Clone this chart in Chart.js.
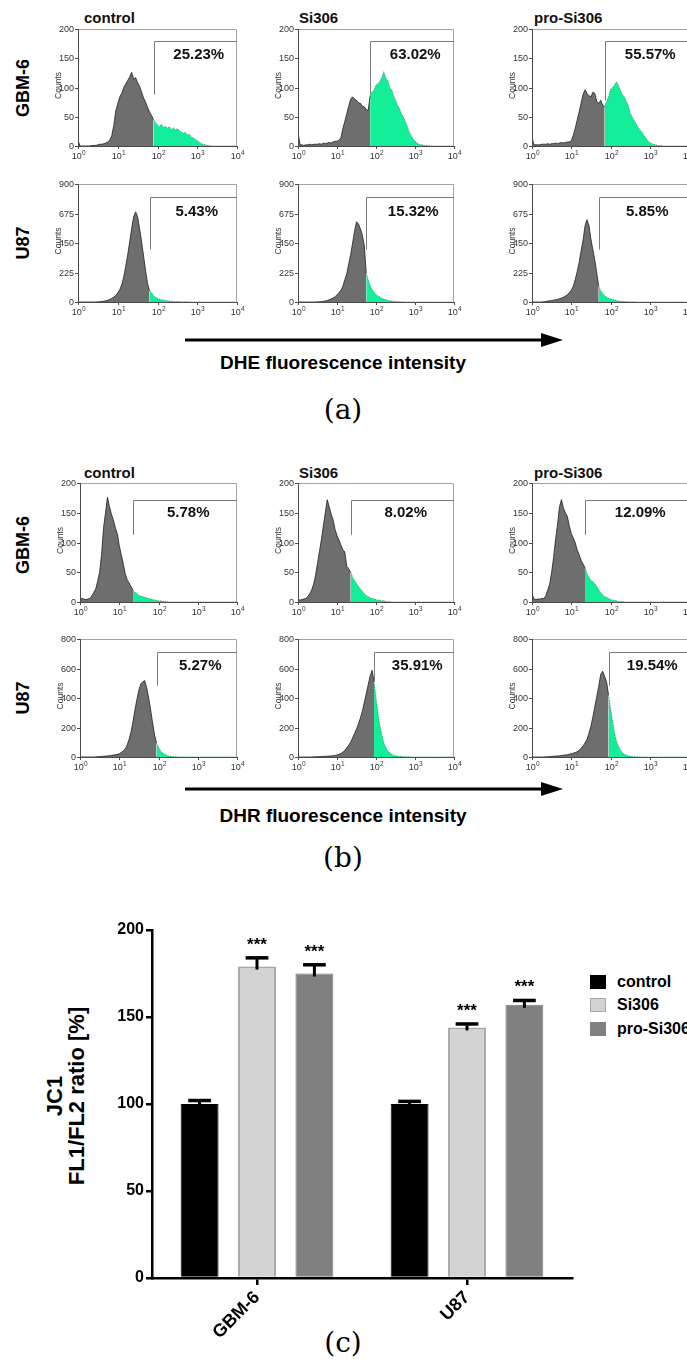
<!DOCTYPE html>
<html>
<head>
<meta charset="utf-8">
<title>DHE / DHR flow cytometry and JC1 ratio</title>
<script src="https://cdn.jsdelivr.net/npm/chart.js@4.4.1/dist/chart.umd.min.js"></script>
<style>
html,body{margin:0;padding:0;background:#ffffff;}
body{position:relative;width:687px;height:1364px;overflow:hidden;font-family:"Liberation Sans",Arial,Helvetica,sans-serif;color:#000;}
canvas{position:absolute;}
.lbl{position:absolute;white-space:nowrap;font-weight:bold;line-height:1;}
.colt{font-size:15px;color:#111;}
.rowl{font-size:18px;transform:translate(-50%,-50%) rotate(-90deg);}
.axt{font-size:19px;transform:translate(-50%,-50%);}
.pan{position:absolute;font-family:"DejaVu Serif","Liberation Serif",serif;font-size:28px;line-height:1;transform:translate(-50%,-50%);white-space:nowrap;}
.ytitle{position:absolute;font-weight:bold;font-size:22px;line-height:22px;text-align:center;white-space:nowrap;transform:translate(-50%,-50%) rotate(-90deg);}
.leg{position:absolute;font-weight:bold;font-size:16px;line-height:1;white-space:nowrap;}
.sw{position:absolute;box-sizing:border-box;}
</style>
</head>
<body>
<svg width="687" height="1364" style="position:absolute;left:0;top:0">
  <line x1="185" y1="340" x2="546" y2="340" stroke="#000" stroke-width="3"/>
  <polygon points="541,333 563,340 541,347" fill="#000"/>
  <line x1="185" y1="789" x2="546" y2="789" stroke="#000" stroke-width="3"/>
  <polygon points="541,782 563,789 541,796" fill="#000"/>
</svg>

<div class="lbl colt" style="left:84px;top:10px">control</div>
<div class="lbl colt" style="left:299px;top:10px">Si306</div>
<div class="lbl colt" style="left:534px;top:10px">pro-Si306</div>
<div class="lbl colt" style="left:84px;top:465px">control</div>
<div class="lbl colt" style="left:299px;top:465px">Si306</div>
<div class="lbl colt" style="left:534px;top:465px">pro-Si306</div>

<div class="lbl rowl" style="left:23px;top:88px">GBM-6</div>
<div class="lbl rowl" style="left:23px;top:243px">U87</div>
<div class="lbl rowl" style="left:23px;top:545px">GBM-6</div>
<div class="lbl rowl" style="left:23px;top:698px">U87</div>

<div class="lbl axt" style="left:343px;top:362px">DHE fluorescence intensity</div>
<div class="lbl axt" style="left:343px;top:815px">DHR fluorescence intensity</div>

<div class="pan" style="left:343px;top:410px">(a)</div>
<div class="pan" style="left:343px;top:858px">(b)</div>
<div class="pan" style="left:343px;top:1343px">(c)</div>

<div class="ytitle" style="left:66px;top:1096px">JC1<br>FL1/FL2 ratio [%]</div>

<div class="sw" style="left:590px;top:975px;width:16px;height:14px;background:#000"></div>
<div class="sw" style="left:590px;top:998px;width:16px;height:14px;background:#d3d3d3;border:1.5px solid #a6a6a6"></div>
<div class="sw" style="left:590px;top:1022px;width:16px;height:14px;background:#808080"></div>
<div class="leg" style="left:617px;top:974px">control</div>
<div class="leg" style="left:617px;top:997px">Si306</div>
<div class="leg" style="left:617px;top:1021px">pro-Si306</div>

<script>
// ---------- Histogram data (log10 fluorescence channel -> counts) ----------
const bins = [0,0.05,0.1,0.15,0.2,0.25,0.3,0.35,0.4,0.45,
  0.5,0.55,0.6,0.65,0.7,0.75,0.8,0.85,0.9,0.95,
  1,1.05,1.1,1.15,1.2,1.25,1.3,1.35,1.4,1.45,
  1.5,1.55,1.6,1.65,1.7,1.75,1.8,1.85,1.9,1.95,
  2,2.05,2.1,2.15,2.2,2.25,2.3,2.35,2.4,2.45,
  2.5,2.55,2.6,2.65,2.7,2.75,2.8,2.85,2.9,2.95,
  3,3.05,3.1,3.15,3.2,3.25,3.3,3.35,3.4,3.45,
  3.5,3.55,3.6,3.65,3.7,3.75,3.8,3.85,3.9,3.95,
  4];
const xTickExps = [0,1,2,3,4];
const dheGbmTicks = [0,50,100,150,200];
const dheU87Ticks = [0,225,450,675,900];
const dhrGbmTicks = [0,50,100,150,200];
const dhrU87Ticks = [0,200,400,600,800];

const dheGbmControl = [10,0,0,0,0,0,0,1,1,1,
  2,3,3,4,5,7,10,18,35,60,
  72,84,90,100,106,112,118,126,114,117,
  108,102,92,82,75,66,58,52,45,40,
  36,33,37,31,34,30,33,28,31,27,
  30,26,24,22,23,19,20,15,14,11,
  9,7,4,3,2,1,1,0,0,0,
  0,0,0,0,0,0,0,0,0,0,
  0];
const dheGbmSi306 = [24,2,2,1,2,2,3,2,3,3,
  3,4,3,5,4,5,6,5,7,8,
  8,10,14,30,42,55,68,80,84,80,
  78,74,73,68,67,62,61,86,92,96,
  104,107,110,118,127,116,113,100,96,86,
  78,70,64,55,50,42,34,24,18,12,
  8,5,3,2,2,1,1,1,0,0,
  0,0,0,0,0,0,0,0,0,0,
  0];
const dheGbmPro = [15,2,2,2,2,3,3,3,4,3,
  4,4,5,4,5,6,5,6,7,7,
  9,18,30,44,58,73,88,96,90,86,
  84,92,90,76,73,78,70,67,76,84,
  96,100,104,110,104,96,88,84,76,70,
  56,50,44,38,33,27,24,18,14,9,
  6,4,3,2,1,1,1,0,0,0,
  0,0,0,0,0,0,0,0,0,0,
  0];
const dheU87Control = [0,0,0,0,0,0,0,0,0,0,
  1,2,4,6,9,14,20,28,38,50,
  70,95,130,190,270,360,460,560,650,688,
  650,560,460,350,240,140,85,70,50,36,
  28,22,18,15,12,10,8,6,5,4,
  3,3,2,2,1,1,1,0,0,0,
  0,0,0,0,0,0,0,0,0,0,
  0,0,0,0,0,0,0,0,0,0,
  0];
const dheU87Si306 = [0,0,0,0,0,0,0,0,0,0,
  1,2,3,5,8,12,17,24,30,40,
  55,70,90,120,170,214,290,360,450,540,
  612,595,560,510,430,220,170,125,95,75,
  55,45,36,28,22,18,14,10,8,6,
  4,3,2,1,1,0,0,0,0,0,
  0,0,0,0,0,0,0,0,0,0,
  0,0,0,0,0,0,0,0,0,0,
  0];
const dheU87Pro = [0,0,0,0,0,0,2,4,7,9,
  12,14,17,20,25,30,36,45,55,70,
  90,120,170,230,300,390,470,580,628,585,
  480,400,320,220,120,85,65,50,38,30,
  24,19,15,11,8,6,5,4,3,2,
  2,1,1,0,0,0,0,0,0,0,
  0,0,0,0,0,0,0,0,0,0,
  0,0,0,0,0,0,0,0,0,0,
  0];
const dhrGbmControl = [5,6,5,4,5,6,10,16,22,35,
  50,80,125,150,176,160,148,138,125,115,
  95,80,65,48,38,32,26,20,16,14,
  11,10,9,8,7,6,5,4,3,3,
  2,2,1,1,1,0,0,0,0,0,
  0,0,0,0,0,0,0,0,0,0,
  0,0,0,0,0,0,0,0,0,0,
  0,0,0,0,0,0,0,0,0,0,
  0];
const dhrGbmSi306 = [6,3,4,5,6,9,14,20,30,45,
  65,85,105,128,150,172,160,148,138,122,
  112,104,96,88,84,60,56,50,42,36,
  31,26,22,18,14,11,9,7,6,5,
  4,3,3,2,2,1,1,1,0,0,
  0,0,0,0,0,0,0,0,0,0,
  0,0,0,0,0,0,0,0,0,0,
  0,0,0,0,0,0,0,0,0,0,
  0];
const dhrGbmPro = [14,5,4,5,5,6,6,10,20,30,
  50,75,105,130,160,172,158,150,144,128,
  115,108,100,88,80,70,64,58,48,42,
  36,34,31,26,20,16,12,9,8,6,
  4,3,3,2,1,1,1,0,0,0,
  0,0,0,0,0,0,0,0,0,0,
  0,0,0,0,0,0,0,0,0,0,
  0,0,0,0,0,0,0,0,0,0,
  0];
const dhrU87Control = [0,0,0,0,0,0,0,0,1,2,
  3,4,5,6,7,9,11,13,15,18,
  22,30,40,55,80,120,170,240,320,390,
  455,495,510,518,470,400,320,230,150,95,
  65,42,28,18,12,8,5,3,2,1,
  1,0,0,0,0,0,0,0,0,0,
  0,0,0,0,0,0,0,0,0,0,
  0,0,0,0,0,0,0,0,0,0,
  0];
const dhrU87Si306 = [0,0,0,0,0,0,0,0,1,2,
  2,3,3,4,5,5,6,7,9,11,
  14,18,24,32,45,62,80,100,130,160,
  190,225,265,310,370,430,490,550,588,510,
  400,300,210,150,95,65,42,28,18,12,
  8,6,4,3,2,2,1,1,0,0,
  0,0,0,0,0,0,0,0,0,0,
  0,0,0,0,0,0,0,0,0,0,
  0];
const dhrU87Pro = [0,0,0,0,0,0,0,1,2,3,
  4,5,6,7,8,10,12,14,16,19,
  22,26,30,36,45,58,75,95,118,160,
  208,270,343,410,479,560,581,547,510,420,
  330,250,165,110,75,45,30,18,12,8,
  5,3,2,1,1,0,0,0,0,0,
  0,0,0,0,0,0,0,0,0,0,
  0,0,0,0,0,0,0,0,0,0,
  0];

// gate position (log10), gate bracket level, end of gate line, percentage in gate
const gates = [1.9,1.85,1.85, 1.8,1.75,1.7, 1.35,1.35,1.35, 1.95,1.95,1.95];
const bracketLevels = [180,180,180, 800,800,800, 172,172,172, 712,712,712];
const gateLineEnds = [88,88,78, 400,400,400, 113,113,113, 484,513,484];
const gatePercents = ['25.23%','63.02%','55.57%','5.43%','15.32%','5.85%','5.78%','8.02%','12.09%','5.27%','35.91%','19.54%'];

// ---------- Bar chart data (panel c) ----------
const barCategories = ['GBM-6','U87'];
const barSeries = ['control','Si306','pro-Si306'];
const controlMeans = [100,100];
const si306Means = [179,144];
const proMeans = [175,157];
const controlSem = [2,1.5];
const si306Sem = [5,2];
const proSem = [5,2.5];
const sigMarks = [['',''],['***','***'],['***','***']];
const barTicks = [0,50,100,150,200];

// ---------- layout (pixels) ----------
const FONT = '"Liberation Sans", Arial, sans-serif';
const histSets = [dheGbmControl,dheGbmSi306,dheGbmPro,dheU87Control,dheU87Si306,dheU87Pro,
                  dhrGbmControl,dhrGbmSi306,dhrGbmPro,dhrU87Control,dhrU87Si306,dhrU87Pro];
const yTickSets = [dheGbmTicks,dheGbmTicks,dheGbmTicks,dheU87Ticks,dheU87Ticks,dheU87Ticks,
                   dhrGbmTicks,dhrGbmTicks,dhrGbmTicks,dhrU87Ticks,dhrU87Ticks,dhrU87Ticks];
const panelBoxes = [
  [78,29,159,117],[298,29,156,117],[532,29,157,117],
  [78,184,159,118],[298,184,156,118],[532,184,157,118],
  [80,483,157,119],[298,483,156,119],[532,483,157,119],
  [80,639,157,118],[298,639,156,118],[532,639,157,118]];
const percentY = [155,155,155, 690,690,690, 150,150,150, 615,615,615];

function makeCanvas(left, top, w, h){
  const c = document.createElement('canvas');
  c.width = w; c.height = h;
  c.style.left = left + 'px'; c.style.top = top + 'px';
  c.style.width = w + 'px'; c.style.height = h + 'px';
  document.body.appendChild(c);
  return c;
}

function histDecor(i){
  return {
    id: 'histDecor' + i,
    afterDatasetsDraw(chart){
      const {ctx, chartArea: a, scales: {x, y}} = chart;
      const ticks = yTickSets[i];
      ctx.save();
      ctx.lineWidth = 1;
      ctx.strokeStyle = '#a3a3a3';
      ctx.beginPath();
      ctx.moveTo(a.left, a.top + 0.5);
      ctx.lineTo(a.right - 0.5, a.top + 0.5);
      ctx.lineTo(a.right - 0.5, a.bottom);
      ctx.stroke();
      ctx.strokeStyle = '#4a4a4a';
      ctx.beginPath();
      ctx.moveTo(a.left + 0.5, a.top);
      ctx.lineTo(a.left + 0.5, a.bottom + 0.5);
      ctx.lineTo(a.right, a.bottom + 0.5);
      ctx.stroke();
      ctx.fillStyle = '#333';
      ctx.font = '9px ' + FONT;
      ctx.textAlign = 'right'; ctx.textBaseline = 'middle';
      ticks.forEach(v => {
        const py = Math.round(y.getPixelForValue(v)) + 0.5;
        ctx.beginPath(); ctx.moveTo(a.left - 3, py); ctx.lineTo(a.left, py); ctx.stroke();
        ctx.fillText(String(v), a.left - 4, py);
      });
      xTickExps.forEach(e => {
        const px = Math.round(x.getPixelForValue(e)) + 0.5;
        ctx.beginPath(); ctx.moveTo(px, a.bottom); ctx.lineTo(px, a.bottom + 3); ctx.stroke();
        ctx.font = '9px ' + FONT; const w1 = ctx.measureText('10').width;
        ctx.font = '6.5px ' + FONT; const w2 = ctx.measureText(String(e)).width;
        const sx = px - (w1 + w2) / 2;
        ctx.textAlign = 'left'; ctx.textBaseline = 'alphabetic';
        ctx.font = '9px ' + FONT; ctx.fillText('10', sx, a.bottom + 13);
        ctx.font = '6.5px ' + FONT; ctx.fillText(String(e), sx + w1 + 0.3, a.bottom + 9);
      });
      ctx.save();
      ctx.translate(a.left - 19, (a.top + a.bottom) / 2 - 2);
      ctx.rotate(-Math.PI / 2);
      ctx.font = '8.5px ' + FONT; ctx.textAlign = 'center'; ctx.textBaseline = 'middle';
      ctx.fillText('Counts', 0, 0);
      ctx.restore();
      const gx = Math.round(x.getPixelForValue(gates[i])) + 0.5;
      const by = Math.round(y.getPixelForValue(bracketLevels[i])) + 0.5;
      const ey = y.getPixelForValue(gateLineEnds[i]);
      ctx.strokeStyle = '#7a7a7a';
      ctx.beginPath(); ctx.moveTo(gx, ey); ctx.lineTo(gx, by); ctx.lineTo(a.right, by); ctx.stroke();
      ctx.fillStyle = '#111';
      ctx.font = 'bold 15px ' + FONT;
      ctx.textAlign = 'center'; ctx.textBaseline = 'middle';
      ctx.fillText(gatePercents[i], (gx + a.right) / 2 + 3, y.getPixelForValue(percentY[i]));
      ctx.restore();
    }
  };
}

histSets.forEach((vals, i) => {
  const [L, T, W, H] = panelBoxes[i];
  const pad = {left: 40, top: 14, right: 14, bottom: 22};
  const cv = makeCanvas(L - pad.left, T - pad.top, W + pad.left + pad.right, H + pad.top + pad.bottom);
  const pts = bins.map((b, k) => ({x: b, y: vals[k]}));
  const g = gates[i];
  const ticks = yTickSets[i];
  new Chart(cv, {
    type: 'line',
    data: {datasets: [
      {data: pts.filter(p => p.x <= g + 1e-9), fill: 'origin', backgroundColor: '#6e6e6e',
       borderColor: '#1f1f1f', borderWidth: 0.8, pointRadius: 0, tension: 0},
      {data: pts.filter(p => p.x >= g - 1e-9), fill: 'origin', backgroundColor: '#12ef98',
       borderColor: '#2d9a68', borderWidth: 0.8, borderDash: [1.5, 1], pointRadius: 0, tension: 0}
    ]},
    options: {
      responsive: false, animation: false, devicePixelRatio: 1,
      layout: {padding: pad},
      scales: {
        x: {type: 'linear', min: 0, max: 4, display: false},
        y: {type: 'linear', min: 0, max: ticks[ticks.length - 1], display: false}
      },
      plugins: {legend: {display: false}, tooltip: {enabled: false}}
    },
    plugins: [histDecor(i)]
  });
});

// ---------- Bar chart (c) ----------
const errorBars = {
  id: 'errorBars',
  afterDatasetsDraw(chart){
    const {ctx, scales: {y}} = chart;
    const means = [controlMeans, si306Means, proMeans];
    const sems = [controlSem, si306Sem, proSem];
    ctx.save();
    ctx.strokeStyle = '#000'; ctx.fillStyle = '#000';
    chart.data.datasets.forEach((ds, di) => {
      chart.getDatasetMeta(di).data.forEach((bar, j) => {
        const top = y.getPixelForValue(means[di][j]);
        const cap = y.getPixelForValue(means[di][j] + sems[di][j]);
        const hw = bar.width * 0.3;
        ctx.lineWidth = 3;
        ctx.beginPath(); ctx.moveTo(bar.x, top + 3); ctx.lineTo(bar.x, cap); ctx.stroke();
        ctx.lineWidth = 3.5;
        ctx.beginPath(); ctx.moveTo(bar.x - hw, cap); ctx.lineTo(bar.x + hw, cap); ctx.stroke();
        if (sigMarks[di][j]) {
          ctx.font = 'bold 17px ' + FONT;
          ctx.textAlign = 'center'; ctx.textBaseline = 'alphabetic';
          ctx.fillText(sigMarks[di][j], bar.x, cap - 8);
        }
      });
    });
    ctx.restore();
  }
};

const cvBar = makeCanvas(0, 900, 687, 448);
new Chart(cvBar, {
  type: 'bar',
  data: {labels: barCategories, datasets: [
    {label: barSeries[0], data: controlMeans, backgroundColor: '#000000', borderColor: '#000000', borderWidth: 1},
    {label: barSeries[1], data: si306Means, backgroundColor: '#d3d3d3', borderColor: '#a6a6a6', borderWidth: 2},
    {label: barSeries[2], data: proMeans, backgroundColor: '#808080', borderColor: '#787878', borderWidth: 1}
  ]},
  options: {
    responsive: false, animation: false, devicePixelRatio: 1,
    layout: {padding: {left: 105, top: 30, right: 115, bottom: 0}},
    datasets: {bar: {categoryPercentage: 0.82, barPercentage: 0.66}},
    scales: {
      x: {
        grid: {display: true, drawOnChartArea: false, offset: false, tickLength: 7, lineWidth: 2.5, color: '#000'},
        border: {display: true, width: 2.5, color: '#000'},
        ticks: {font: {family: FONT, size: 18, weight: 'bold'}, color: '#000', minRotation: 45, maxRotation: 45, padding: 2},
        afterFit(s){ s.height = 70; }
      },
      y: {
        min: 0, max: 200,
        grid: {drawOnChartArea: false, tickLength: 6, lineWidth: 2.5, color: '#000'},
        border: {display: true, width: 2.5, color: '#000'},
        ticks: {font: {family: FONT, size: 16, weight: 'bold'}, color: '#000', padding: 2},
        afterBuildTicks(s){ s.ticks = barTicks.map(v => ({value: v})); },
        afterFit(s){ s.width = 47; }
      }
    },
    plugins: {legend: {display: false}, tooltip: {enabled: false}}
  },
  plugins: [errorBars]
});
</script>
</body>
</html>
